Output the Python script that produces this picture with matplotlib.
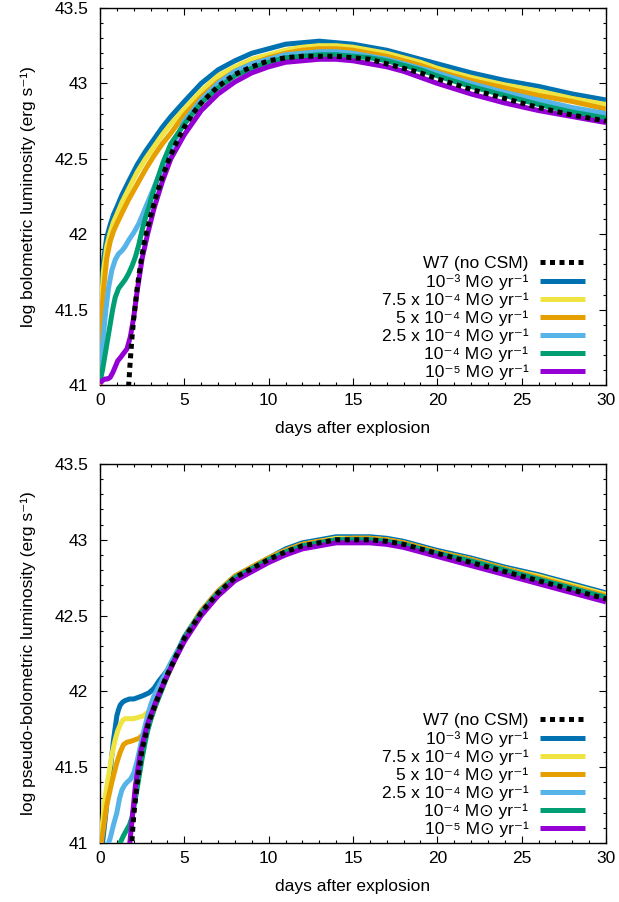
import matplotlib
matplotlib.use("Agg")
import matplotlib.pyplot as plt
from matplotlib.ticker import MultipleLocator, FuncFormatter

plt.rcParams["font.family"] = ["Liberation Sans", "DejaVu Sans"]

# ---------------- data ----------------
# late-time grid shared by most curves
t_late = [6, 7, 8, 9, 10, 11, 12, 13, 14, 15, 16, 17, 18, 19, 20, 22, 24, 26, 28, 30]

labels = ["W7 (no CSM)",
          "10\u207b\u00b3 M\u2299 yr\u207b\u00b9",
          "7.5 x 10\u207b\u2074 M\u2299 yr\u207b\u00b9",
          "5 x 10\u207b\u2074 M\u2299 yr\u207b\u00b9",
          "2.5 x 10\u207b\u2074 M\u2299 yr\u207b\u00b9",
          "10\u207b\u2074 M\u2299 yr\u207b\u00b9",
          "10\u207b\u2075 M\u2299 yr\u207b\u00b9"]
colors = ["black", "#0072B2", "#F0E442", "#E69F00", "#56B4E9", "#009E73", "#9400D3"]

# top panel: bolometric
bol_t_w7 = [1.6, 1.7, 1.8, 1.9, 2.0, 2.2, 2.4, 2.6, 2.8, 3.0, 3.3, 3.7, 4.1, 4.5, 5, 5.5] + t_late
bol_w7 = [40.8, 41.0, 41.17, 41.32, 41.44, 41.64, 41.8, 41.93, 42.03, 42.12, 42.24, 42.38,
          42.5, 42.6, 42.71, 42.8,
          42.87, 42.98, 43.06, 43.11, 43.15, 43.17, 43.18, 43.18, 43.18, 43.17, 43.16, 43.13,
          43.1, 43.07, 43.03, 42.96, 42.9, 42.84, 42.79, 42.75]

bol_t_hi = [0, 0.05, 0.1, 0.2, 0.4, 0.6, 0.8, 1.0, 1.3, 1.7, 2.2, 2.7, 3.2, 3.7, 4.2, 5] + t_late
bol_1e3 = [41.0, 41.35, 41.6, 41.82, 41.98, 42.06, 42.13, 42.18, 42.26, 42.35, 42.46, 42.55,
           42.63, 42.71, 42.78, 42.88,
           43.0, 43.09, 43.15, 43.2, 43.23, 43.26, 43.27, 43.28, 43.27, 43.26, 43.24, 43.22,
           43.19, 43.16, 43.13, 43.07, 43.02, 42.98, 42.93, 42.89]
bol_75e4 = [41.0, 41.3, 41.55, 41.75, 41.92, 42.01, 42.08, 42.13, 42.21, 42.3, 42.41, 42.5,
            42.58, 42.66, 42.73, 42.83,
            42.95, 43.05, 43.11, 43.16, 43.19, 43.22, 43.24, 43.25, 43.25, 43.24, 43.22, 43.2,
            43.17, 43.14, 43.1, 43.04, 42.99, 42.95, 42.9, 42.86]
bol_5e4 = [41.0, 41.25, 41.45, 41.62, 41.84, 41.95, 42.02, 42.07, 42.14, 42.23, 42.33, 42.43,
           42.52, 42.6, 42.67, 42.79,
           42.91, 43.01, 43.08, 43.13, 43.17, 43.2, 43.22, 43.23, 43.23, 43.22, 43.2, 43.18,
           43.15, 43.12, 43.08, 43.02, 42.97, 42.92, 42.88, 42.83]

bol_t_25e4 = [0, 0.1, 0.2, 0.35, 0.5, 0.7, 0.9, 1.1, 1.3, 1.5, 1.7, 2.0, 2.3, 2.6, 2.9,
              3.2, 3.5, 4, 4.5, 5] + t_late
bol_25e4 = [41.02, 41.18, 41.33, 41.5, 41.64, 41.76, 41.83, 41.87, 41.89, 41.92, 41.96, 42.01,
            42.07, 42.15, 42.23, 42.31, 42.39, 42.52, 42.63, 42.75,
            42.89, 43.0, 43.08, 43.13, 43.16, 43.19, 43.2, 43.21, 43.21, 43.2, 43.18, 43.16,
            43.13, 43.1, 43.07, 43.0, 42.94, 42.89, 42.84, 42.8]

bol_t_1e4 = [0, 0.15, 0.3, 0.45, 0.6, 0.75, 0.9, 1.1, 1.3, 1.5, 1.7, 1.9, 2.1, 2.3, 2.5,
             2.7, 2.9, 3.1, 3.3, 3.75, 4.2, 5] + t_late
bol_1e4 = [41.02, 41.1, 41.2, 41.3, 41.4, 41.5, 41.58, 41.64, 41.67, 41.7, 41.74, 41.79,
           41.85, 41.93, 42.03, 42.11, 42.18, 42.26, 42.33, 42.48, 42.6, 42.73,
           42.87, 42.97, 43.05, 43.1, 43.14, 43.17, 43.18, 43.19, 43.19, 43.18, 43.17, 43.15,
           43.12, 43.09, 43.05, 42.98, 42.92, 42.86, 42.81, 42.77]

bol_t_1e5 = [0, 0.15, 0.3, 0.45, 0.6, 0.75, 0.9, 1.05, 1.2, 1.4, 1.6, 1.8, 2.0, 2.2, 2.5,
             2.8, 3.2, 3.7, 4.2, 5] + t_late
bol_1e5 = [41.01, 41.03, 41.04, 41.04, 41.05, 41.08, 41.12, 41.16, 41.18, 41.21, 41.24,
           41.32, 41.45, 41.62, 41.84, 41.99, 42.17, 42.35, 42.5, 42.66,
           42.82, 42.93, 43.01, 43.07, 43.11, 43.14, 43.15, 43.16, 43.16, 43.15, 43.13, 43.11,
           43.08, 43.04, 43.0, 42.93, 42.87, 42.82, 42.78, 42.74]

# bottom panel: pseudo-bolometric
pb_t_w7 = [1.85, 2.0, 2.2, 2.5, 2.9, 3.4, 3.9, 4.5, 5] + t_late
pb_w7 = [40.95, 41.18, 41.39, 41.62, 41.8, 41.95, 42.09, 42.23, 42.35,
         42.52, 42.65, 42.75, 42.81, 42.87, 42.92, 42.96, 42.98, 43.0, 43.0, 43.0, 42.99,
         42.97, 42.94, 42.91, 42.85, 42.79, 42.73, 42.67, 42.61]

pb_t_1e3 = [0.1, 0.3, 0.6, 0.8, 1.0, 1.1, 1.2, 1.35, 1.5, 1.75, 2.0, 2.5, 2.9, 3.2, 3.5,
            4.0, 4.5, 5] + t_late
pb_1e3 = [40.95, 41.15, 41.47, 41.68, 41.84, 41.88, 41.91, 41.93, 41.94, 41.95, 41.95, 41.97,
          41.99, 42.02, 42.07, 42.14, 42.24, 42.36,
          42.53, 42.66, 42.76, 42.82, 42.88, 42.94, 42.98, 43.0, 43.02, 43.02, 43.02, 43.01,
          42.99, 42.96, 42.93, 42.88, 42.82, 42.77, 42.71, 42.65]

pb_t_75e4 = [0.0, 0.3, 0.7, 0.9, 1.05, 1.2, 1.35, 1.5, 2.0, 2.6, 2.9, 3.1, 3.35, 3.6, 4.1,
             4.6, 5] + t_late
pb_75e4 = [40.97, 41.3, 41.58, 41.68, 41.74, 41.78, 41.81, 41.82, 41.82, 41.84, 41.87,
           41.91, 41.96, 42.02, 42.13, 42.25, 42.35,
           42.53, 42.66, 42.76, 42.82, 42.88, 42.93, 42.97, 42.99, 43.01, 43.01, 43.01, 43.0,
           42.98, 42.95, 42.92, 42.87, 42.81, 42.76, 42.7, 42.64]

pb_t_5e4 = [0.05, 0.4, 0.7, 1.0, 1.2, 1.4, 1.6, 1.8, 2.3, 2.6, 2.9, 3.15, 3.4, 3.65, 3.9,
            4.5, 5] + t_late
pb_5e4 = [40.98, 41.25, 41.4, 41.53, 41.6, 41.65, 41.665, 41.67, 41.69, 41.72, 41.79,
          41.86, 41.94, 42.01, 42.08, 42.23, 42.35,
          42.53, 42.66, 42.76, 42.82, 42.88, 42.93, 42.97, 42.99, 43.0, 43.01, 43.01, 43.0,
          42.98, 42.95, 42.92, 42.87, 42.81, 42.75, 42.69, 42.63]

pb_t_25e4 = [0.45, 0.6, 0.8, 1.0, 1.15, 1.3, 1.45, 1.6, 1.8, 2.0, 2.2, 2.4, 2.6, 2.8, 3.0,
             3.2, 3.7, 4.2, 5] + t_late
pb_25e4 = [40.98, 41.03, 41.12, 41.2, 41.29, 41.35, 41.38, 41.4, 41.42, 41.46, 41.54, 41.64,
           41.74, 41.83, 41.91, 41.97, 42.08, 42.19, 42.35,
           42.52, 42.65, 42.75, 42.81, 42.87, 42.92, 42.96, 42.98, 43.0, 43.0, 43.0, 42.99,
           42.97, 42.94, 42.91, 42.86, 42.8, 42.74, 42.68, 42.62]

pb_t_1e4 = [1.15, 1.4, 1.6, 1.75, 1.9, 2.05, 2.2, 2.35, 2.5, 2.65, 2.8, 3.0, 3.2, 3.7, 4.2,
            5] + t_late
pb_1e4 = [40.99, 41.05, 41.09, 41.12, 41.17, 41.26, 41.36, 41.46, 41.56, 41.65, 41.73,
          41.81, 41.88, 42.02, 42.16, 42.35,
          42.52, 42.65, 42.75, 42.81, 42.87, 42.92, 42.96, 42.98, 43.0, 43.0, 43.0, 42.99,
          42.97, 42.94, 42.91, 42.86, 42.8, 42.74, 42.68, 42.62]

pb_t_1e5 = [1.75, 1.9, 2.1, 2.4, 2.8, 3.3, 3.8, 4.4, 5] + t_late
pb_1e5 = [40.98, 41.15, 41.38, 41.6, 41.78, 41.93, 42.06, 42.2, 42.33,
          42.5, 42.63, 42.73, 42.79, 42.85, 42.9, 42.94, 42.96, 42.98, 42.98, 42.98, 42.97,
          42.95, 42.92, 42.89, 42.83, 42.77, 42.71, 42.65, 42.59]

top_series = [(bol_t_w7, bol_w7), (bol_t_hi, bol_1e3), (bol_t_hi, bol_75e4),
              (bol_t_hi, bol_5e4), (bol_t_25e4, bol_25e4), (bol_t_1e4, bol_1e4),
              (bol_t_1e5, bol_1e5)]
bot_series = [(pb_t_w7, pb_w7), (pb_t_1e3, pb_1e3), (pb_t_75e4, pb_75e4),
              (pb_t_5e4, pb_5e4), (pb_t_25e4, pb_25e4), (pb_t_1e4, pb_1e4),
              (pb_t_1e5, pb_1e5)]

FS = 12.5

fig = plt.figure(figsize=(6.19, 9.02), dpi=100)
ax_top = fig.add_axes([100 / 619, 1 - 385 / 902, 506 / 619, 377 / 902])
ax_bot = fig.add_axes([100 / 619, 1 - 843 / 902, 506 / 619, 379 / 902])


def draw_panel(ax, series, ylabel, leg_y):
    for i, ((t, L), c, lab) in enumerate(zip(series, colors, labels)):
        if i == 0:
            ax.plot(t, L, color=c, lw=3.6, ls=(0, (1, 0.9)), dash_capstyle="butt",
                    label=lab, zorder=10)
        else:
            ax.plot(t, L, color=c, lw=3.6, label=lab, zorder=2 + i,
                    solid_joinstyle="round", solid_capstyle="butt")
    ax.set_xlim(0, 30)
    ax.set_ylim(41, 43.5)
    ax.xaxis.set_major_locator(MultipleLocator(5))
    ax.xaxis.set_minor_locator(MultipleLocator(1))
    ax.yaxis.set_major_locator(MultipleLocator(0.5))
    ax.yaxis.set_minor_locator(MultipleLocator(0.1))
    ax.yaxis.set_major_formatter(FuncFormatter(lambda v, p: "%g" % v))
    ax.tick_params(which="both", direction="in", top=True, right=True,
                   labelsize=FS, width=0.8)
    ax.tick_params(which="major", length=5)
    ax.tick_params(which="minor", length=2.5)
    ax.tick_params(axis="x", which="major", pad=6)
    ax.tick_params(axis="y", which="major", pad=8.5)
    for s in ax.spines.values():
        s.set_linewidth(1.0)
    ax.set_xlabel("days after explosion", fontsize=FS, labelpad=9)
    ax.set_ylabel(ylabel, fontsize=FS, labelpad=13)
    ax.legend(loc="lower right", bbox_to_anchor=(0.958, leg_y), frameon=False,
              markerfirst=False, fontsize=FS, handlelength=2.55,
              handletextpad=0.7, labelspacing=0.15, borderaxespad=0.0,
              borderpad=0.0)


draw_panel(ax_top, top_series, "log bolometric luminosity (erg s\u207b\u00b9)", 0.012)
draw_panel(ax_bot, bot_series, "log pseudo-bolometric luminosity (erg s\u207b\u00b9)", 0.015)

fig.savefig("out.png", dpi=100)
